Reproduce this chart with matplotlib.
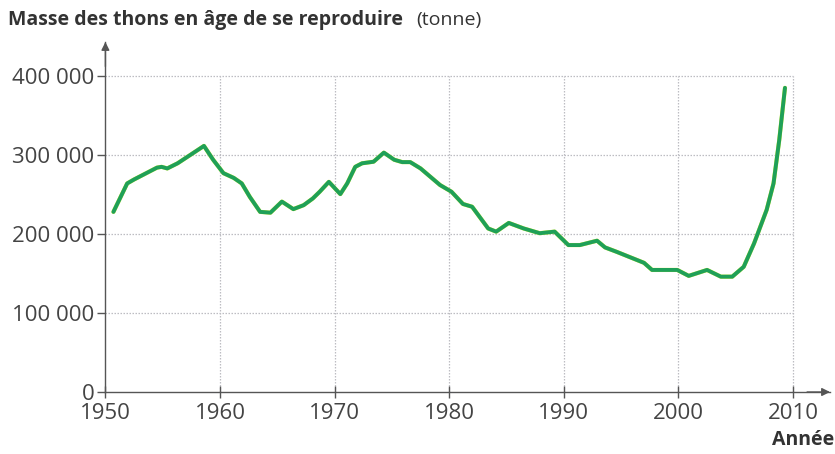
import matplotlib
matplotlib.use("Agg")
import matplotlib.pyplot as plt

years = [1950.7, 1951.9, 1952.5, 1953.3, 1954.5, 1954.9, 1955.4, 1956.3, 1957.4, 1958.6,
         1959.4, 1960.3, 1961.2, 1961.9, 1962.6, 1963.5, 1964.4, 1965.4, 1966.4, 1967.3,
         1968.1, 1968.7, 1969.5, 1970.5, 1971.1, 1971.8, 1972.4, 1973.4, 1974.3, 1975.2,
         1975.9, 1976.6, 1977.5, 1979.2, 1980.2, 1981.2, 1982.0, 1983.4, 1984.1, 1985.2,
         1986.5, 1987.9, 1989.2, 1990.4, 1991.4, 1992.9, 1993.6, 1994.6, 1996.4, 1997.0,
         1997.7, 1999.9, 2000.9, 2002.5, 2003.7, 2004.7, 2005.7, 2006.6, 2007.7, 2008.3,
         2008.8, 2009.3]
masse = [228000, 264000, 269000, 275000, 284000, 285000, 283000, 289500, 300000, 311500,
         294000, 277000, 271000, 264000, 247000, 228000, 227000, 241000, 231500, 236500,
         245000, 253500, 266000, 250500, 264000, 285000, 289500, 291500, 303000, 294000,
         291000, 291000, 283000, 262000, 253500, 238000, 234500, 207000, 203000, 214000,
         207000, 201000, 203000, 186000, 186000, 191500, 183000, 177500, 167000, 163500,
         154500, 154500, 147000, 154500, 146000, 146000, 158500, 188000, 230500, 264000,
         319000, 385000]

x_ticks = [1950, 1960, 1970, 1980, 1990, 2000, 2010]
y_ticks = [0, 100000, 200000, 300000, 400000]
y_labels = ["0", "100 000", "200 000", "300 000", "400 000"]

plt.rcParams['font.family'] = ['Open Sans', 'DejaVu Sans']

fig = plt.figure(figsize=(8.35, 4.54), dpi=100)
ax = fig.add_axes([105.4 / 835, 62 / 454, (830 - 105.4) / 835, (392 - 42) / 454])

x0, x1 = 1950, 1950 + (830 - 105.4) / 11.46
y1 = (392 - 42) * 100000 / 79.0
ax.set_xlim(x0, x1)
ax.set_ylim(0, y1)

grid_kw = dict(color='#bdbdc2', linewidth=0.9, linestyle=(0, (1.2, 1.2)), zorder=1)
for yv in y_ticks[1:]:
    ax.plot([1950, 2010], [yv, yv], **grid_kw)
for xv in x_ticks[1:]:
    ax.plot([xv, xv], [0, 400000], **grid_kw)

ax.plot(years, masse, color='#d8ee3a', linewidth=3.0, zorder=2,
        solid_capstyle='round', solid_joinstyle='round')
ax.plot(years, masse, color='#1fa058', linewidth=2.8, zorder=3,
        solid_capstyle='round', solid_joinstyle='round')

for s in ['top', 'right']:
    ax.spines[s].set_visible(False)
for s in ['left', 'bottom']:
    ax.spines[s].set_color('#555555')
    ax.spines[s].set_linewidth(1.0)

# arrows
ax.annotate('', xy=(1950, y1), xytext=(1950, y1 * 0.93),
            arrowprops=dict(arrowstyle='-|>', color='#555555', lw=1.0,
                            mutation_scale=12, shrinkA=0, shrinkB=0), annotation_clip=False)
ax.annotate('', xy=(x1, 0), xytext=(x1 - 2, 0),
            arrowprops=dict(arrowstyle='-|>', color='#555555', lw=1.0,
                            mutation_scale=12, shrinkA=0, shrinkB=0), annotation_clip=False)

ax.set_xticks(x_ticks)
ax.set_xticklabels([str(v) for v in x_ticks], fontsize=16)
ax.set_yticks(y_ticks)
ax.set_yticklabels(y_labels, fontsize=16)
ax.tick_params(axis='both', colors='#555555', labelcolor='#444444',
               length=5, width=1.0)
ax.tick_params(axis='x', direction='inout', length=8, pad=4)
ax.tick_params(axis='y', direction='out', length=6, pad=2)

fig.text(8 / 835, 1 - 20 / 454, "Masse des thons en âge de se reproduire",
         fontsize=14, fontweight='bold', color='#333333', va='center', ha='left')
fig.text(416 / 835, 1 - 20 / 454, "(tonne)",
         fontsize=14, color='#333333', va='center', ha='left')
fig.text(834 / 835, 1 - 440 / 454, "Année", fontsize=14, fontweight='bold',
         color='#333333', va='center', ha='right')

fig.savefig("out.png", dpi=100, facecolor='white')
